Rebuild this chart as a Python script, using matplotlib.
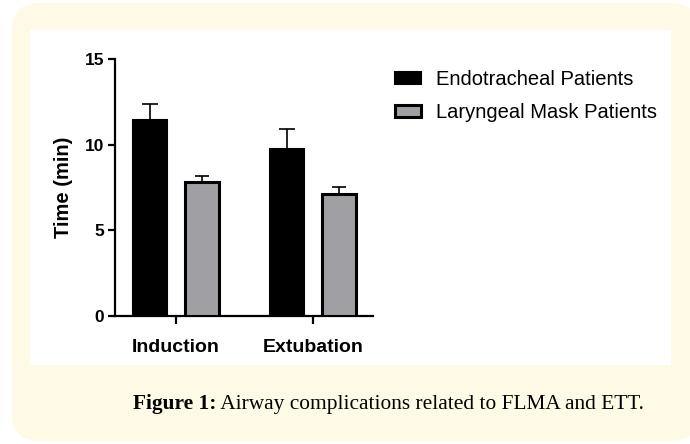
import matplotlib
matplotlib.use("Agg")
import matplotlib.pyplot as plt
from matplotlib.patches import FancyBboxPatch, Rectangle, Patch
import numpy as np

categories = ["Induction", "Extubation"]
series_names = ["Endotracheal Patients", "Laryngeal Mask Patients"]
ett_mean = [11.45, 9.75]
ett_err = [0.92, 1.15]
lma_mean = [7.8, 7.1]
lma_err = [0.35, 0.45]
yticks = [0, 5, 10, 15]
caption_bold = "Figure 1:"
caption_rest = " Airway complications related to FLMA and ETT."

W, H = 690, 444
fig = plt.figure(figsize=(W / 100, H / 100), dpi=100)
fig.patch.set_facecolor("white")

cream = "#FFFAE6"
bg = FancyBboxPatch((12 / W, 3 / H), (678 - 12) / W + 0.03, (441 - 3) / H,
                    boxstyle="round,pad=0,rounding_size=0.04",
                    transform=fig.transFigure, facecolor=cream, edgecolor="none",
                    mutation_aspect=W / H, zorder=-2)
fig.patches.append(bg)
panel = Rectangle((30 / W, 1 - 365 / H), (671 - 30) / W, (365 - 30) / H,
                  transform=fig.transFigure, facecolor="white", edgecolor="none", zorder=-1)
fig.patches.append(panel)

ax = fig.add_axes([115 / W, 1 - 316 / H, (373 - 115) / W, (316 - 59) / H])
ax.set_facecolor("none")
ax.set_zorder(2)

x = np.arange(len(categories))
off = 0.19
bw = 0.245
grey = "#A0A0A4"
ax.bar(x - off, ett_mean, bw, color="black", edgecolor="black", linewidth=1.5, zorder=3)
ax.bar(x + off, lma_mean, bw, color=grey, edgecolor="black", linewidth=2.2, zorder=3)
ax.errorbar(x - off, ett_mean, yerr=[np.zeros(2), ett_err], fmt="none", ecolor="black",
            elinewidth=1.2, capsize=6, capthick=1.2, zorder=2)
ax.errorbar(x + off, lma_mean, yerr=[np.zeros(2), lma_err], fmt="none", ecolor="black",
            elinewidth=1.2, capsize=5, capthick=1.2, zorder=2)

ax.set_xlim(-0.445, 1.438)
ax.set_ylim(0, 15)
ax.set_yticks(yticks)
ax.set_xticks(x)
ax.set_xticklabels(categories)
for s in ["top", "right"]:
    ax.spines[s].set_visible(False)
for s in ["left", "bottom"]:
    ax.spines[s].set_linewidth(1.6)
ax.tick_params(axis="y", width=1.6, length=5, direction="out", pad=3)
ax.tick_params(axis="x", width=1.6, length=5.5, direction="out", pad=11)
for lab in ax.get_yticklabels() + ax.get_xticklabels():
    lab.set_fontfamily("Liberation Sans")
    lab.set_fontweight("bold")
for lab in ax.get_yticklabels():
    lab.set_fontsize(12.5)
for lab in ax.get_xticklabels():
    lab.set_fontsize(14)
ax.set_ylabel("Time (min)", fontfamily="Liberation Sans", fontweight="bold", fontsize=14.5)
ax.yaxis.set_label_coords((73 - 115) / (373 - 115), (316 - 187) / 257)

handles = [Patch(facecolor="black", edgecolor="black", linewidth=1.5),
           Patch(facecolor=grey, edgecolor="black", linewidth=2.2)]
fig.legend(handles, series_names, loc="upper left", bbox_to_anchor=(377 / W, 1 - 52 / H),
           frameon=False, prop={"family": "Liberation Sans", "size": 14.5},
           handlelength=1.3, handleheight=0.55, handletextpad=0.75, labelspacing=0.68)

fs_cap = 15.4
t1 = fig.text(133 / W, 1 - 404 / H, caption_bold, fontfamily="Liberation Serif",
              fontweight="bold", fontsize=fs_cap, va="center", ha="left")
fig.canvas.draw()
bb = t1.get_window_extent()
fig.text(bb.x1 / W, 1 - 404 / H, caption_rest, fontfamily="Liberation Serif",
         fontsize=fs_cap, va="center", ha="left")

fig.savefig("out.png", dpi=100, facecolor="white")
